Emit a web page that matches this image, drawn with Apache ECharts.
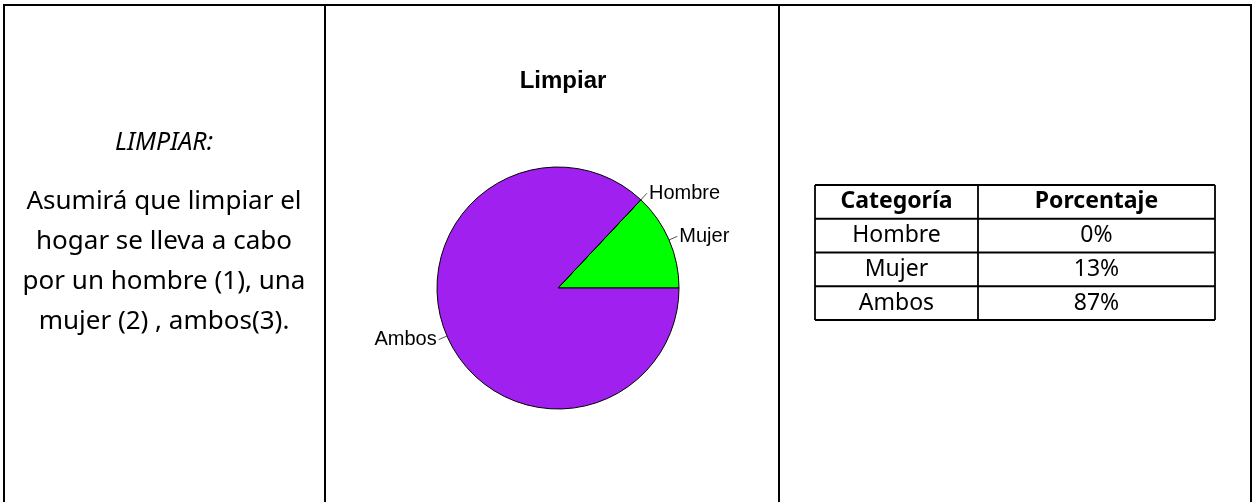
<!DOCTYPE html>
<html>
<head>
<meta charset="utf-8">
<script src="https://cdn.jsdelivr.net/npm/echarts@6/dist/echarts.min.js"></script>
<style>
  html, body { margin: 0; padding: 0; background: #fff; }
  #chart { width: 1255px; height: 502px; }
</style>
</head>
<body>
<div id="chart"></div>
<script>
// datos de la tabla
const categorias = ["Hombre", "Mujer", "Ambos"];
const porcentajes = [0, 13, 87];
// orden en el que R dibuja las porciones (antihorario desde las 3 en punto)
const ordenPie = ["Mujer", "Hombre", "Ambos"];
const coloresPie = { Hombre: "#bebebe", Mujer: "#00ff00", Ambos: "#a020f0" };
const tituloPie = "Limpiar";
const cabecera = ["Categoría", "Porcentaje"];
const textoIzq = ["Asumirá que limpiar el", "hogar se lleva a cabo", "por un hombre (1), una", "mujer (2) , ambos(3)."];

const chart = echarts.init(document.getElementById("chart"));

const pieData = ordenPie.map(function (c) {
  return {
    name: c,
    value: porcentajes[categorias.indexOf(c)],
    itemStyle: { color: coloresPie[c] },
  };
});

// marco de la tabla exterior
const lineStyle = { stroke: "#000", lineWidth: 2 };
const graphics = [
  { type: "line", shape: { x1: 3, y1: 5, x2: 1252, y2: 5 }, style: lineStyle },
  { type: "line", shape: { x1: 4, y1: 4, x2: 4, y2: 502 }, style: lineStyle },
  { type: "line", shape: { x1: 325, y1: 4, x2: 325, y2: 502 }, style: lineStyle },
  { type: "line", shape: { x1: 779, y1: 4, x2: 779, y2: 502 }, style: lineStyle },
  { type: "line", shape: { x1: 1251, y1: 4, x2: 1251, y2: 502 }, style: lineStyle },
  {
    type: "text", x: 164, y: 143,
    style: { text: "LIMPIAR:", font: "italic 25px 'Noto Sans'", fill: "#000", textAlign: "center", textVerticalAlign: "middle" },
  },
];
textoIzq.forEach(function (t, i) {
  graphics.push({
    type: "text", x: 164, y: 202 + i * 40,
    style: { text: t, font: "26px 'Noto Sans'", fill: "#000", textAlign: "center", textVerticalAlign: "middle" },
  });
});

// tabla de la derecha
const tx = [815, 978, 1215];
const rowH = 33.75, ty0 = 185;
const nRows = categorias.length + 1;
const thin = { stroke: "#000", lineWidth: 1.8 };
for (let r = 0; r <= nRows; r++) {
  graphics.push({ type: "line", shape: { x1: tx[0], y1: ty0 + r * rowH, x2: tx[2], y2: ty0 + r * rowH }, style: thin });
}
tx.forEach(function (x) {
  graphics.push({ type: "line", shape: { x1: x, y1: ty0, x2: x, y2: ty0 + nRows * rowH }, style: thin });
});
const rows = [cabecera].concat(categorias.map(function (c, i) { return [c, porcentajes[i] + "%"]; }));
rows.forEach(function (row, r) {
  row.forEach(function (txt, c) {
    graphics.push({
      type: "text",
      x: (tx[c] + tx[c + 1]) / 2,
      y: ty0 + r * rowH + rowH / 2,
      style: {
        text: txt,
        font: (r === 0 ? "bold " : "") + "23px 'Noto Sans'",
        fill: "#000",
        textAlign: "center",
        textVerticalAlign: "middle",
      },
    });
  });
});

const option = {
  backgroundColor: "#fff",
  animation: false,
  title: {
    text: tituloPie,
    left: 558,
    top: 64,
    textAlign: "center",
    textStyle: { fontFamily: "Liberation Sans", fontSize: 24, fontWeight: "bold", color: "#000" },
  },
  graphic: graphics,
  series: [
    {
      type: "pie",
      center: [558, 288],
      radius: 121,
      startAngle: 0,
      clockwise: false,
      minAngle: 0,
      avoidLabelOverlap: false,
      itemStyle: { borderColor: "#000", borderWidth: 1 },
      label: {
        show: true,
        position: "outside",
        fontFamily: "Liberation Sans",
        fontSize: 20,
        color: "#000",
        distanceToLabelLine: 2,
      },
      labelLine: {
        show: true,
        length: 9,
        length2: 0,
        lineStyle: { color: "#555", width: 1 },
      },
      emphasis: { disabled: true },
      data: pieData,
    },
  ],
};

chart.setOption(option);
window.onresize = chart.resize;
</script>
</body>
</html>
